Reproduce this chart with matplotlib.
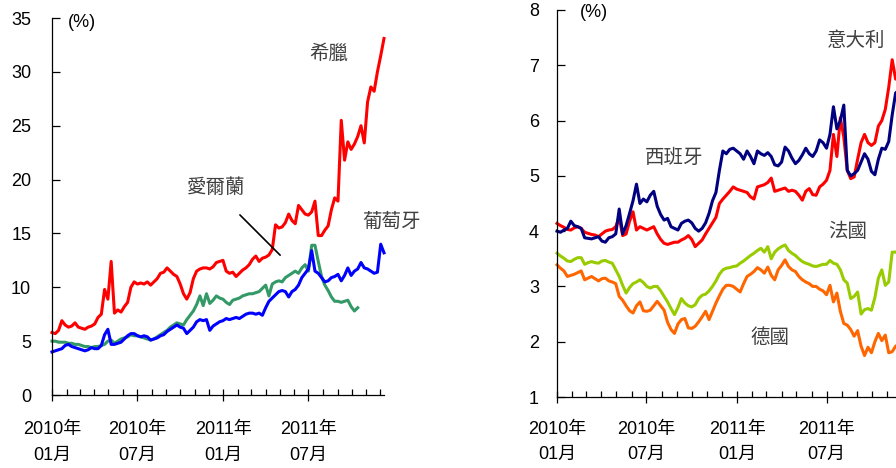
import matplotlib
matplotlib.use("Agg")
import matplotlib.pyplot as plt
import matplotlib.dates as mdates
import pandas as pd

plt.rcParams['font.family'] = ['Liberation Sans', 'Noto Sans CJK TC', 'DejaVu Sans']

# ---------------- data (weekly, starting 2010-01-01) ----------------
start_date = "2010-01-01"

greece = [5.8, 5.7, 6.0, 6.9, 6.5, 6.3, 6.4, 6.7, 6.3, 6.2,
          6.1, 6.3, 6.4, 6.6, 7.2, 7.5, 9.8, 8.9, 12.4, 7.6,
          7.9, 7.7, 8.2, 8.6, 10.0, 10.5, 10.3, 10.4, 10.3, 10.5,
          10.2, 10.5, 10.8, 11.3, 11.4, 11.8, 11.5, 11.2, 11.0, 10.3,
          9.4, 8.9, 9.5, 10.8, 11.5, 11.7, 11.8, 11.8, 11.7, 11.9,
          12.3, 12.4, 12.5, 11.5, 11.3, 11.4, 11.0, 11.3, 11.6, 11.8,
          12.1, 12.6, 12.9, 12.4, 12.7, 12.8, 13.0, 13.5, 15.8, 15.5,
          15.6, 16.0, 16.8, 16.2, 15.9, 17.6, 17.2, 16.8, 16.7, 17.0,
          18.0, 14.8, 14.8, 15.3, 15.7, 17.2, 18.3, 18.0, 25.5, 21.8,
          23.5, 22.8, 23.3, 24.0, 25.0, 23.4, 27.2, 28.6, 28.2, 30.0,
          31.5, 33.1]

ireland = [5.0, 5.0, 4.9, 4.9, 4.9, 4.8, 4.8, 4.7, 4.7, 4.6,
           4.5, 4.5, 4.4, 4.5, 4.5, 4.6, 4.7, 5.0, 5.1, 4.8,
           5.0, 5.2, 5.3, 5.4, 5.6, 5.5, 5.5, 5.4, 5.3, 5.2,
           5.1, 5.2, 5.4, 5.6, 5.8, 6.0, 6.3, 6.5, 6.7, 6.6,
           6.5, 7.0, 7.4, 7.8, 8.4, 9.2, 8.3, 9.4, 8.5, 8.8,
           9.2, 9.0, 8.9, 8.6, 8.4, 8.8, 8.9, 9.0, 9.2, 9.3,
           9.4, 9.4, 9.5, 9.6, 9.9, 10.2, 9.2, 10.3, 10.5, 10.6,
           10.5, 10.9, 11.1, 11.3, 11.5, 11.3, 11.8, 12.1, 11.5, 13.9,
           13.9, 12.4, 11.0, 10.2, 9.7, 9.1, 8.7, 8.7, 8.6, 8.7,
           8.8, 8.2, 7.8, 8.1]

portugal = [4.0, 4.1, 4.2, 4.3, 4.6, 4.7, 4.5, 4.4, 4.3, 4.2,
            4.1, 4.2, 4.4, 4.3, 4.3, 4.6, 5.6, 6.1, 4.7, 4.7,
            4.8, 4.9, 5.2, 5.5, 5.7, 5.7, 5.5, 5.4, 5.5, 5.4,
            5.1, 5.2, 5.3, 5.5, 5.6, 5.9, 6.1, 6.3, 6.5, 6.3,
            6.2, 5.7, 6.0, 6.3, 6.8, 7.0, 6.9, 7.0, 6.0, 6.4,
            6.6, 6.8, 6.9, 7.1, 7.0, 7.1, 7.2, 7.1, 7.3, 7.5,
            7.6, 7.6, 7.5, 7.6, 7.4, 8.1, 8.7, 9.0, 9.3, 9.6,
            9.7, 9.6, 9.1, 9.6, 9.8, 10.2, 10.9, 11.3, 11.7, 13.4,
            11.5, 11.3, 10.9, 10.5, 10.6, 10.9, 11.0, 11.2, 10.6, 11.1,
            11.8, 11.1, 11.5, 11.7, 12.3, 11.8, 11.7, 11.5, 11.3, 11.4,
            14.0, 13.2]

spain = [4.00, 3.98, 4.02, 4.05, 4.18, 4.10, 4.08, 4.05, 3.88, 3.87,
         3.86, 3.88, 3.90, 3.82, 3.80, 3.88, 3.90, 3.95, 4.40, 3.95,
         4.10, 4.32, 4.55, 4.85, 4.50, 4.58, 4.53, 4.65, 4.72, 4.45,
         4.30, 4.20, 4.23, 4.08, 4.05, 4.02, 4.14, 4.18, 4.20, 4.15,
         4.05, 4.00, 4.05, 4.15, 4.32, 4.55, 4.70, 5.10, 5.45, 5.40,
         5.48, 5.50, 5.45, 5.40, 5.30, 5.45, 5.35, 5.22, 5.45, 5.40,
         5.37, 5.42, 5.35, 5.20, 5.18, 5.25, 5.52, 5.45, 5.32, 5.22,
         5.28, 5.38, 5.50, 5.40, 5.35, 5.45, 5.65, 5.60, 5.50, 5.75,
         6.25, 5.85, 6.00, 6.28, 5.10, 5.00, 5.04, 5.10, 5.25, 5.40,
         5.30, 5.08, 5.02, 5.30, 5.50, 5.48, 5.62, 6.10, 6.50, 6.55]

italy = [4.14, 4.10, 4.07, 4.03, 4.02, 4.06, 4.08, 4.05, 3.98, 3.96,
         3.94, 3.93, 3.90, 3.95, 4.00, 4.02, 4.03, 4.08, 4.25, 3.92,
         3.95, 4.18, 4.35, 4.02, 4.08, 4.05, 4.02, 4.05, 4.08, 3.95,
         3.85, 3.78, 3.76, 3.78, 3.80, 3.80, 3.84, 3.87, 3.92, 3.85,
         3.72, 3.78, 3.84, 3.95, 4.05, 4.15, 4.25, 4.50, 4.58, 4.65,
         4.72, 4.80, 4.76, 4.74, 4.72, 4.70, 4.62, 4.58, 4.80, 4.82,
         4.84, 4.88, 4.96, 4.72, 4.74, 4.76, 4.78, 4.72, 4.74, 4.72,
         4.65, 4.56, 4.72, 4.77, 4.66, 4.65, 4.80, 4.85, 4.92, 5.10,
         5.75, 5.35, 6.05, 5.70, 5.10, 4.95, 4.98, 5.30, 5.60, 5.75,
         5.60, 5.55, 5.60, 5.90, 6.00, 6.20, 6.60, 7.10, 6.75, 6.90]

france = [3.60, 3.55, 3.51, 3.46, 3.45, 3.49, 3.52, 3.52, 3.40, 3.43,
          3.45, 3.43, 3.42, 3.46, 3.47, 3.44, 3.42, 3.30, 3.18, 3.02,
          2.88, 2.98, 3.05, 3.08, 3.12, 3.07, 3.00, 2.97, 3.00, 3.00,
          2.92, 2.82, 2.72, 2.60, 2.49, 2.62, 2.78, 2.70, 2.65, 2.63,
          2.67, 2.78, 2.84, 2.86, 2.92, 3.00, 3.10, 3.22, 3.30, 3.33,
          3.34, 3.36, 3.37, 3.42, 3.46, 3.51, 3.56, 3.60, 3.65, 3.69,
          3.62, 3.72, 3.50, 3.62, 3.68, 3.72, 3.75, 3.65, 3.60, 3.56,
          3.50, 3.45, 3.42, 3.40, 3.37, 3.36, 3.38, 3.40, 3.40, 3.47,
          3.42, 3.40, 3.30, 3.12, 3.06, 2.78, 2.82, 2.90, 2.50, 2.58,
          2.60, 2.57, 2.80, 3.15, 3.30, 3.02, 3.08, 3.62, 3.62, 3.65]

germany = [3.39, 3.33, 3.28, 3.18, 3.20, 3.22, 3.25, 3.28, 3.12, 3.15,
           3.18, 3.14, 3.10, 3.14, 3.15, 3.10, 3.08, 3.05, 2.82, 2.75,
           2.65, 2.56, 2.52, 2.65, 2.72, 2.56, 2.55, 2.57, 2.65, 2.73,
           2.65, 2.57, 2.35, 2.22, 2.15, 2.32, 2.40, 2.42, 2.25, 2.24,
           2.28, 2.36, 2.45, 2.55, 2.40, 2.55, 2.70, 2.83, 2.95, 3.02,
           3.02, 3.00, 2.95, 2.90, 3.05, 3.18, 3.22, 3.27, 3.34, 3.30,
           3.24, 3.35, 3.20, 3.12, 3.30, 3.38, 3.48, 3.36, 3.30, 3.27,
           3.18, 3.12, 3.08, 3.05, 3.00, 3.00, 2.95, 2.92, 2.85, 3.02,
           2.72, 2.88, 2.55, 2.33, 2.30, 2.22, 2.10, 2.20, 1.92, 1.75,
           1.90, 1.80, 2.00, 2.15, 2.02, 2.12, 1.80, 1.82, 1.92, 1.95]

left_labels = ["希臘", "愛爾蘭", "葡萄牙"]
right_labels = ["意大利", "西班牙", "法國", "德國"]
unit_label = "(%)"


def dates_for(values):
    return pd.date_range(start_date, periods=len(values), freq="7D")


# ---------------- figure ----------------
fig = plt.figure(figsize=(8.96, 4.68), dpi=100)
axL = fig.add_axes([52 / 896, 73 / 468, 332 / 896, 377 / 468])
axR = fig.add_axes([557 / 896, 71 / 468, 349 / 896, 387 / 468])

xmin = pd.Timestamp("2010-01-01")
xmax = pd.Timestamp("2011-12-09")
lw = 2.2
text_color = "#404040"
cjk = ['Noto Sans CJK TC', 'DejaVu Sans']


def fmt(x, pos=None):
    d = mdates.num2date(x)
    return f"{d.year}年\n{d.month:02d}月"


def style(ax, ylo, yhi, ystep, ypad, xpad):
    ax.set_xlim(xmin, xmax)
    ax.set_ylim(ylo, yhi)
    ax.set_yticks(range(ylo, yhi + 1, ystep))
    for s in ("top", "right"):
        ax.spines[s].set_visible(False)
    for s in ("left", "bottom"):
        ax.spines[s].set_linewidth(0.9)
        ax.spines[s].set_color("black")
    ax.xaxis.set_major_locator(mdates.MonthLocator(bymonth=[1, 7]))
    ax.xaxis.set_minor_locator(mdates.MonthLocator())
    ax.xaxis.set_major_formatter(plt.FuncFormatter(fmt))
    ax.tick_params(axis="x", which="major", direction="inout", length=8,
                   width=0.9, labelsize=13, pad=xpad)
    ax.tick_params(axis="x", which="minor", direction="in", length=4,
                   width=0.9)
    ax.tick_params(axis="y", direction="in", length=6, width=0.9,
                   labelsize=13, pad=ypad)
    for lab in ax.get_xticklabels():
        lab.set_linespacing(1.65)
    ax.set_facecolor("none")


# left panel
axL.plot(dates_for(greece), greece, color="#FF0000", lw=lw, clip_on=False)
axL.plot(dates_for(ireland), ireland, color="#339966", lw=lw, clip_on=False)
axL.plot(dates_for(portugal), portugal, color="#0000FF", lw=lw, clip_on=False)
style(axL, 0, 35, 5, 15, 15)
axL.text(0.048, 0.987, unit_label, transform=axL.transAxes, fontsize=13,
         va="center", ha="left")
axL.text(pd.Timestamp("2011-08-13"), 31.75, left_labels[0], fontsize=14,
         color=text_color, family=cjk, ha="center", va="center")
axL.text(pd.Timestamp("2010-12-16"), 19.3, left_labels[1], fontsize=14,
         color=text_color, family=cjk, ha="center", va="center")
axL.text(pd.Timestamp("2011-12-25"), 16.1, left_labels[2], fontsize=14,
         color=text_color, family=cjk, ha="center", va="center",
         clip_on=False)
axL.annotate("", xy=(pd.Timestamp("2011-05-06"), 12.8),
             xytext=(pd.Timestamp("2011-02-01"), 16.9),
             arrowprops=dict(arrowstyle="-", color="black", lw=1.2))

# right panel
axR.plot(dates_for(italy), italy, color="#FF0000", lw=lw, clip_on=False)
axR.plot(dates_for(spain), spain, color="#000080", lw=lw, clip_on=False)
axR.plot(dates_for(france), france, color="#99CC00", lw=lw, clip_on=False)
axR.plot(dates_for(germany), germany, color="#FF6600", lw=lw, clip_on=False)
style(axR, 1, 8, 1, 13, 13)
axR.text(0.066, 0.9935, unit_label, transform=axR.transAxes, fontsize=13,
         va="center", ha="left")
axR.text(pd.Timestamp("2011-08-30"), 7.44, right_labels[0], fontsize=14,
         color=text_color, family=cjk, ha="center", va="center")
axR.text(pd.Timestamp("2010-08-27"), 5.33, right_labels[1], fontsize=14,
         color=text_color, family=cjk, ha="center", va="center")
axR.text(pd.Timestamp("2011-08-13"), 4.0, right_labels[2], fontsize=14,
         color=text_color, family=cjk, ha="center", va="center")
axR.text(pd.Timestamp("2011-03-09"), 2.08, right_labels[3], fontsize=14,
         color=text_color, family=cjk, ha="center", va="center")

fig.savefig("out.png", dpi=100)
